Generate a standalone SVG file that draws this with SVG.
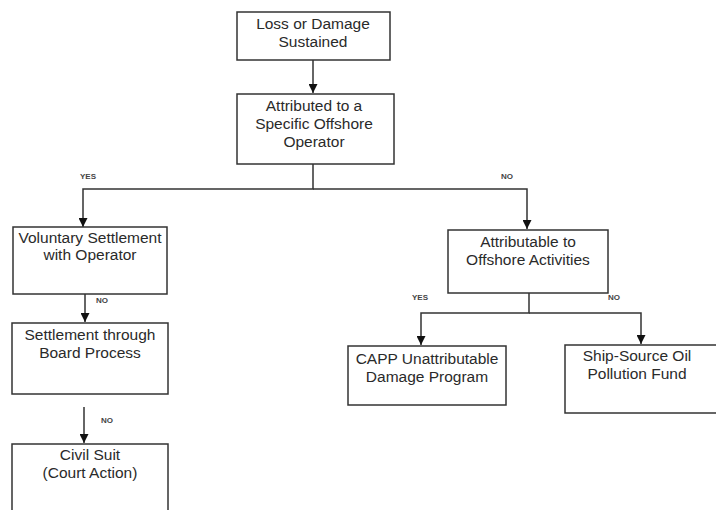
<svg xmlns="http://www.w3.org/2000/svg" width="716" height="510" viewBox="0 0 716 510">
<style>
.box{fill:#fff;stroke:#333;stroke-width:1.5}
.t{font-family:"Liberation Sans",Arial,sans-serif;font-size:15.5px;fill:#2a2a2a;text-anchor:middle}
.l{font-family:"Liberation Sans",Arial,sans-serif;font-size:8px;font-weight:bold;fill:#444;text-anchor:middle}
.c{fill:none;stroke:#333;stroke-width:1.5}
</style>
<defs>
<marker id="ah" viewBox="0 0 10 10" refX="10" refY="5" markerWidth="9" markerHeight="9" markerUnits="userSpaceOnUse" orient="auto">
<path d="M0,0 L10,5 L0,10 z" fill="#111"/>
</marker>
</defs>
<rect width="716" height="510" fill="#fff"/>
<g id="connectors">
<path class="c" d="M313,60 V93" marker-end="url(#ah)"/>
<path class="c" d="M313,164 V189 H83 V227" marker-end="url(#ah)"/>
<path class="c" d="M313,189 H527 V229" marker-end="url(#ah)"/>
<path class="c" d="M85,294 V322" marker-end="url(#ah)"/>
<path class="c" d="M84,407 V443" marker-end="url(#ah)"/>
<path class="c" d="M529,293 V313 H421 V345" marker-end="url(#ah)"/>
<path class="c" d="M529,313 H641 V344" marker-end="url(#ah)"/>
<text class="l" x="88" y="179">YES</text>
<text class="l" x="507" y="179">NO</text>
<text class="l" x="102" y="303">NO</text>
<text class="l" x="107" y="423">NO</text>
<text class="l" x="420" y="300">YES</text>
<text class="l" x="614" y="300">NO</text>
</g>
<g id="n1">
<rect class="box" x="237" y="12" width="153" height="48"/>
<text class="t" x="313" y="29">Loss or Damage</text>
<text class="t" x="313" y="47">Sustained</text>
</g>
<g id="n2">
<rect class="box" x="237" y="94" width="157" height="70"/>
<text class="t" x="314" y="111">Attributed to a</text>
<text class="t" x="314" y="129">Specific Offshore</text>
<text class="t" x="314" y="147">Operator</text>
</g>
<g id="n3">
<rect class="box" x="13" y="227" width="154" height="67"/>
<text class="t" x="90" y="243">Voluntary Settlement</text>
<text class="t" x="90" y="260">with Operator</text>
</g>
<g id="n4">
<rect class="box" x="12" y="323" width="156" height="71"/>
<text class="t" x="90" y="340">Settlement through</text>
<text class="t" x="90" y="358">Board Process</text>
</g>
<g id="n5">
<rect class="box" x="12" y="444" width="156" height="80"/>
<text class="t" x="90" y="460">Civil Suit</text>
<text class="t" x="90" y="478">(Court Action)</text>
</g>
<g id="n6">
<rect class="box" x="448" y="230" width="160" height="63"/>
<text class="t" x="528" y="247">Attributable to</text>
<text class="t" x="528" y="265">Offshore Activities</text>
</g>
<g id="n7">
<rect class="box" x="348" y="346" width="158" height="59"/>
<text class="t" x="427" y="364">CAPP Unattributable</text>
<text class="t" x="427" y="382">Damage Program</text>
</g>
<g id="n8">
<rect class="box" x="565" y="345" width="160" height="68"/>
<text class="t" x="637" y="361">Ship-Source Oil</text>
<text class="t" x="637" y="379">Pollution Fund</text>
</g>
</svg>
